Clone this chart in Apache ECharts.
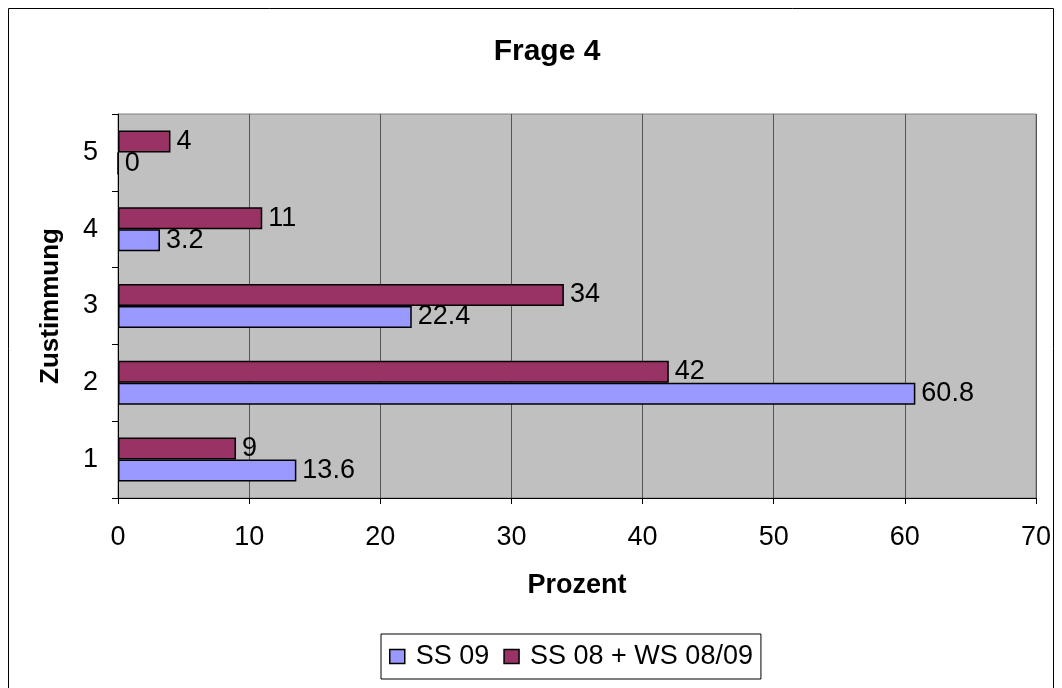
<!DOCTYPE html>
<html><head><meta charset="utf-8">
<script src="https://cdn.jsdelivr.net/npm/echarts@6/dist/echarts.min.js"></script>
<style>html,body{margin:0;padding:0;background:#fff}#c{width:1062px;height:688px}</style>
</head><body><div id="c"></div>
<script>
const categories = ['1', '2', '3', '4', '5'];
const ss09 = [13.6, 60.8, 22.4, 3.2, 0];
const ss08ws = [9, 42, 34, 11, 4];
const seriesNames = ['SS 09', 'SS 08 + WS 08/09'];
const xTicks = { min: 0, max: 70, interval: 10 };

const chart = echarts.init(document.getElementById('c'));
const font = 'Liberation Sans, Arial, sans-serif';
const labelStyle = { show: true, position: 'right', distance: 6, fontSize: 27, color: '#000', fontFamily: font };
chart.setOption({
  animation: false,
  textStyle: { fontFamily: font },
  graphic: [{ type: 'rect', shape: { x: 8.5, y: 8.5, width: 1045, height: 700 }, style: { fill: 'none', stroke: '#000', lineWidth: 1 } }],
  title: { text: 'Frage 4', left: 542, top: 32, textAlign: 'center', textStyle: { fontSize: 30, fontWeight: 'bold', color: '#000', fontFamily: font } },
  grid: { left: 118, right: 26, top: 114, bottom: 190, show: true, backgroundColor: '#C0C0C0', borderColor: '#808080', borderWidth: 1 },
  xAxis: {
    type: 'value', min: xTicks.min, max: xTicks.max, interval: xTicks.interval,
    name: 'Prozent', nameLocation: 'middle', nameGap: 74,
    nameTextStyle: { fontSize: 27, fontWeight: 'bold', color: '#000', fontFamily: font },
    axisLine: { show: true, lineStyle: { color: '#000', width: 1 } },
    axisTick: { show: true, length: 6, lineStyle: { color: '#000' } },
    axisLabel: { fontSize: 27, color: '#000', margin: 26, fontFamily: font },
    splitLine: { show: true, lineStyle: { color: '#555', width: 1 } }
  },
  yAxis: {
    type: 'category', data: categories,
    name: 'Zustimmung', nameLocation: 'middle', nameGap: 54, nameRotate: 90,
    nameTextStyle: { fontSize: 26, fontWeight: 'bold', color: '#000', fontFamily: font },
    axisLine: { show: true, lineStyle: { color: '#000', width: 1 } },
    axisTick: { show: true, length: 6, alignWithLabel: false, lineStyle: { color: '#000' } },
    axisLabel: { fontSize: 27, color: '#000', margin: 20, fontFamily: font }
  },
  legend: {
    data: seriesNames, left: 381, top: 634, orient: 'horizontal',
    padding: [9, 8], borderColor: '#000', borderWidth: 1, itemGap: 14,
    itemWidth: 15, itemHeight: 14, icon: 'rect',
    itemStyle: { borderColor: '#000', borderWidth: 1.5 },
    textStyle: { fontSize: 27, color: '#000', fontFamily: font, padding: [0, 0, 0, 6] }
  },
  series: [
    { name: seriesNames[1], type: 'bar', data: ss08ws, barWidth: 22, barGap: '0%',
      itemStyle: { color: '#993366', borderColor: '#000', borderWidth: 1.5 }, label: labelStyle },
    { name: seriesNames[0], type: 'bar', data: ss09, barWidth: 22, barGap: '0%',
      itemStyle: { color: '#9999FF', borderColor: '#000', borderWidth: 1.5 }, label: labelStyle }
  ]
});
</script></body></html>
